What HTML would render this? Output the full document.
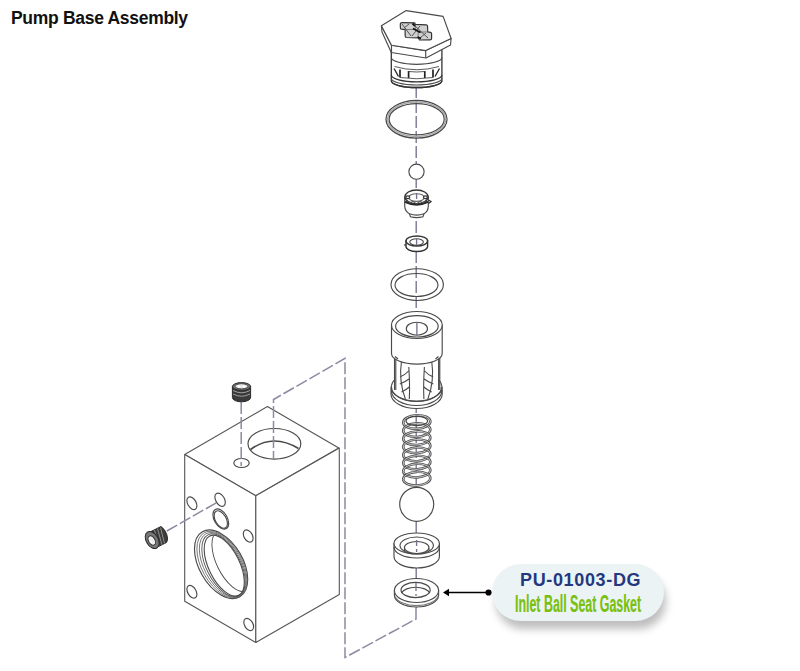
<!DOCTYPE html>
<html><head><meta charset="utf-8">
<style>
html,body{margin:0;padding:0;background:#fff;width:800px;height:671px;overflow:hidden;}
body{position:relative;font-family:"Liberation Sans",sans-serif;}
.title{position:absolute;left:11px;top:7.5px;font-size:17.5px;letter-spacing:-0.3px;font-weight:bold;color:#111;white-space:nowrap;}
svg{position:absolute;left:0;top:0;}
.pill{position:absolute;left:492px;top:564px;width:172px;height:57px;border-radius:29px;background:#ecf3f5;box-shadow:3px 9px 9px -1px rgba(0,0,0,0.26);}
.pn{position:absolute;left:28px;top:6px;font-size:18px;font-weight:bold;color:#24387f;white-space:nowrap;letter-spacing:0.65px;}
.nm{position:absolute;left:22.5px;top:26.8px;font-size:23.4px;font-weight:bold;color:#78c00e;white-space:nowrap;transform:scaleX(0.53);transform-origin:0 0;-webkit-text-stroke:0.2px #78c00e;}
</style></head>
<body>
<div class="title">Pump Base Assembly</div>
<svg width="800" height="671" viewBox="0 0 800 671">
<!-- ===== BLOCK ===== -->
<g fill="#fff" stroke="#555" stroke-width="1.1" stroke-linejoin="round">
  <path d="M267.4 406.6 L338.8 448 L255.8 495.8 L184.7 454.5 Z"/>
  <path d="M184.7 454.5 V601.2 L255.8 642.5 V495.8 Z"/>
  <path d="M255.8 642.5 L339.3 594.5 V448 L255.8 495.8 Z"/>
</g>
<g fill="none" stroke="#4a4a4a" stroke-width="1.15">
  <!-- top big hole -->
  <ellipse cx="274.4" cy="443.8" rx="26.4" ry="15.3"/>
  <path d="M250.5 449.5 Q273 433 298.5 448.5" stroke-width="1.6"/>
  <!-- small top hole -->
  <ellipse cx="241.5" cy="463" rx="7.7" ry="4.5"/>
  <!-- left face holes -->
  <ellipse cx="191.9" cy="503.2" rx="6.9" ry="4.2" transform="rotate(60 191.9 503.2)"/>
  <ellipse cx="220.1" cy="499.7" rx="7.2" ry="4.4" transform="rotate(60 220.1 499.7)"/>
  <ellipse cx="220.8" cy="519" rx="11" ry="6.5" transform="rotate(60 220.8 519)"/>
  <ellipse cx="220.8" cy="519.5" rx="9.6" ry="5.4" transform="rotate(60 220.8 519.5)"/>
  <ellipse cx="248.2" cy="536" rx="6.6" ry="4.2" transform="rotate(60 248.2 536)"/>
  <ellipse cx="191.9" cy="591.8" rx="6.9" ry="4.2" transform="rotate(60 191.9 591.8)"/>
  <ellipse cx="248.7" cy="624.5" rx="6.6" ry="4.2" transform="rotate(60 248.7 624.5)"/>
  <!-- big port -->
  <ellipse cx="221.1" cy="564.3" rx="37.5" ry="21.8" transform="rotate(60 221.1 564.3)"/>
  <ellipse cx="221.9" cy="564.6" rx="36.5" ry="20.2" transform="rotate(61 221.9 564.6)" stroke-width="0.8" stroke="#666"/>
  <ellipse cx="222.7" cy="564.9" rx="35.4" ry="18.6" transform="rotate(62 222.7 564.9)" stroke-width="0.8" stroke="#666"/>
  <ellipse cx="223.5" cy="565.3" rx="34.2" ry="17" transform="rotate(63 223.5 565.3)" stroke-width="0.9" stroke="#555"/>
  <ellipse cx="224.25" cy="565.6" rx="33" ry="15.5" transform="rotate(64 224.25 565.6)" stroke-width="1.1"/>
  <clipPath id="bore"><ellipse cx="224.25" cy="565.6" rx="33" ry="15.5" transform="rotate(64 224.25 565.6)"/></clipPath>
  <g clip-path="url(#bore)"><ellipse cx="232" cy="561" rx="33" ry="15.5" transform="rotate(64 232 561)" stroke-width="0.9"/></g>
</g>
</g>
<!-- ===== DASHED LINES ===== -->
<g fill="none" stroke="#8a8aa2" stroke-width="1.5" stroke-dasharray="12 3">
  <path d="M416.2 86 V608" stroke="#74748c" stroke-width="1.35"/>
  <path d="M416 608 V619 L345 657.5 V358.3 L273.5 399.5 V459"/>
  <path d="M241.2 402 V466"/>
  <path d="M166.8 531 L217 502.4"/>
</g>
<!-- ===== SCREWS ===== -->
<g stroke="#2a2a2a" stroke-width="1">
  <path d="M232.4 386.5 V397.5 A9.1 4.3 0 0 0 250.6 397.5 V386.5 Z" fill="#3a3a3a"/>
  <path d="M233 390.5 Q241.5 395 250 390.5 M233 394 Q241.5 398.5 250 394" stroke="#aaa" stroke-width="0.9" fill="none"/>
  <ellipse cx="241.5" cy="386.5" rx="9.1" ry="3.9" fill="#777"/>
  <ellipse cx="241.5" cy="386.3" rx="6.5" ry="2.6" fill="#e8e8e8" stroke="#444"/>
  <circle cx="239" cy="386.5" r="1.2" fill="#fff" stroke="none"/>
  <circle cx="244" cy="386.5" r="1.2" fill="#fff" stroke="none"/>
</g>
<g stroke="#2a2a2a" stroke-width="1">
  <path d="M150 532 L161 526.5 A5.5 10 -28 0 1 166.5 542.5 L155.5 548 Z" fill="#3c3c3c"/>
  <path d="M154.5 530 L159 546.5 M157.5 528.5 L162 545 M160.5 527.5 L164.5 543.5" stroke="#999" stroke-width="0.9" fill="none"/>
  <ellipse cx="152.2" cy="540" rx="6" ry="9.3" transform="rotate(-30 152.2 540)" fill="#777"/>
  <ellipse cx="151.8" cy="540.5" rx="3.2" ry="5" transform="rotate(-30 151.8 540.5)" fill="#eee" stroke="#333"/>
  <circle cx="151" cy="542" r="1.3" fill="#fff" stroke="none"/>
</g>
<!-- ===== PARTS ===== -->
<g fill="#fff" stroke="#4a4a4a" stroke-width="1.15" stroke-linejoin="round">
  <!-- plug -->
  <path d="M391.3 52 V80.7 A25.3 6.8 0 0 0 441.9 80.7 V49 Z" stroke="#333" stroke-width="1.3"/>
  <path d="M391.3 57.5 A25.3 6.8 0 0 0 441.9 57.5" fill="none"/>
  <path d="M394.5 66.5 Q417 73 439 66.5" fill="none" stroke-width="0.9"/>
  <path d="M400 69.5 V77.5 M408.6 71 V78 M424.8 71 V78 M433 69.5 V77.5" fill="none" stroke="#222" stroke-width="1.7"/>
  <path d="M408.6 71.5 Q416.7 72.5 424.8 71.5 M400 77.5 Q417 80 433 77.5" fill="none" stroke-width="0.9"/>
  <path d="M394 68.5 L398.5 76.5 M439.5 68.5 L435 76.5" fill="none" stroke="#222" stroke-width="1.3"/>
  <path d="M391.3 75 A25.3 6.8 0 0 0 441.9 75" fill="none" stroke="#333" stroke-width="1.3"/>
  <path d="M391.3 78.2 A25.3 6.8 0 0 0 441.9 78.2" fill="none"/>
  <path d="M391.3 80.7 A25.3 6.8 0 0 0 441.9 80.7" fill="none" stroke="#333" stroke-width="1.3"/>
  <path d="M381.4 25.8 L382 32 L391.3 52.5 L426 58 L450.5 45 L451.1 38.5 L425.7 50.6 L391.5 45.2 Z"/>
  <path d="M391.5 45.2 V52.5 M425.7 50.6 V58" fill="none"/>
  <path d="M406.2 10.6 L443.1 16.4 L451.1 38.5 L425.7 50.6 L391.5 45.2 L381.4 25.8 Z"/>
  <!-- cross icon on top -->
  <path d="M400.3 23.8 Q400.5 22.6 402 22.6 L414.7 22.8 L415.3 24.4 L426.3 24.8 Q427.6 25 427.6 26.5 L427.7 31.9 L430.6 32.4 Q431.6 32.6 431.6 34 L431.6 38.5 Q431.6 39.8 430 39.8 L419.5 40 L418.3 37.8 L406.5 37.5 Q405.2 37.4 405.2 36 L405.1 29.6 L401.5 29.2 Q400.4 29 400.4 28 Z" fill="#d0d0d0" stroke="#333" stroke-width="1.2"/>
  <path d="M405.1 29.6 L415.3 29.4 M415.3 24.4 V29.4 M418.3 37.8 L418 32.2 L427.7 31.9" fill="none" stroke="#666" stroke-width="0.8"/>
  <path d="M402 24 L411 36 M404 28 L409 24 M412 36 L420 26 M414 25 L428 38 M420 38 L426 33" fill="none" stroke="#555" stroke-width="1"/>
  <path d="M412.5 23.5 L415 26 M413 28.5 L420.5 32.5 M417.5 37 L421 38.5" fill="none" stroke="#111" stroke-width="1.8"/>
</g>
<g fill="none" stroke="#4a4a4a" stroke-width="1.15">
  <!-- o-ring 1 -->
  <ellipse cx="416.5" cy="119.3" rx="30.5" ry="18.8" stroke-width="1.3"/>
  <ellipse cx="416.7" cy="119.2" rx="27.6" ry="15.6" stroke-width="1.3"/>
  <ellipse cx="416.6" cy="119.2" rx="29" ry="17.2" stroke="#aaa" stroke-width="1.6"/>
</g>
<g fill="#fff" stroke="#4a4a4a" stroke-width="1.15">
  <!-- small ball -->
  <circle cx="416.5" cy="171.7" r="7.6"/>
  <!-- ball cage -->
  <path d="M404.7 197 V206 Q405 211.5 409.4 213.8 L410.5 216.8 Q416.7 218.5 423 216.8 L424 213.8 Q428.3 211.5 428.3 206 V197 Z"/>
  <ellipse cx="416.5" cy="196.8" rx="11.6" ry="6.8" stroke="#333" stroke-width="1.4"/>
  <ellipse cx="416.5" cy="197.5" rx="7.8" ry="3.8" fill="none" stroke="#666"/>
  <path d="M405 201.8 Q416.5 207.5 428 201.8" fill="none" stroke="#2a2a2a" stroke-width="2.2"/>
  <path d="M407 200.5 L410 203 L413 201 L416.5 204 L420 201 L423 203 L426 200.5" fill="none" stroke="#555" stroke-width="1"/>
  <ellipse cx="407.8" cy="197.3" rx="2" ry="1.4" fill="#fff" stroke="#333" stroke-width="1.2"/>
  <ellipse cx="425.4" cy="197.3" rx="2" ry="1.4" fill="#fff" stroke="#333" stroke-width="1.2"/>
  <path d="M409.4 213.8 Q416.7 216.3 424 213.8" fill="none"/>
  <path d="M428.5 200 L431 201.5 L428.5 203.5" fill="none" stroke="#333" stroke-width="1.3"/>
  <!-- seat ring small -->
  <path d="M406 241 V246.5 A10.8 5 0 0 0 427.6 246.5 V241 Z" stroke-width="1.4" stroke="#333"/>
  <ellipse cx="416.8" cy="241" rx="10.8" ry="5" stroke-width="1.4" stroke="#333"/>
  <ellipse cx="416.6" cy="242" rx="6.8" ry="3.3" fill="none"/>
  <path d="M406 244.5 L404.8 245 L406 246" fill="none" stroke-width="1.3"/>
</g>
<g fill="none" stroke="#4a4a4a" stroke-width="1.15">
  <!-- o-ring 2 -->
  <ellipse cx="417.2" cy="284.6" rx="26.2" ry="15.9"/>
  <ellipse cx="416.5" cy="285" rx="21.5" ry="11.5"/>
</g>
<g fill="#fff" stroke="#4a4a4a" stroke-width="1.15">
  <!-- cage -->
  <path d="M394 350 H440 V389 A23 13 0 0 1 394 389 Z" stroke="none"/>
  <path d="M394.5 355 V390 M395.8 356 V390 M438.6 356 V390 M439.8 355 V390" fill="none" stroke-width="1.1"/>
  <path d="M391 387 V394 A25.6 14.5 0 0 0 442.2 394 V387 A25.6 14 0 0 1 391 387 Z"/>
  <path d="M391.5 387 A25 14.5 0 0 0 441.5 387" fill="none"/>
  <path d="M391.5 391 A25.1 14.5 0 0 0 441.7 391" fill="none"/>
  <path d="M391.2 387 Q392 382 394.6 380 M442 387 Q441.2 382 438.6 380" fill="none"/>
  <path d="M401.5 361 Q398.5 381 405.5 399.5 M408.8 367 Q410 385 409.3 399 M400 377 Q405 375 408.6 371 M399.8 384 Q405 382 409 379 M401.5 392 Q406 390 409.3 387" fill="none" stroke-width="1.1"/>
  <path d="M431.7 361 Q434.7 381 427.7 399.5 M424.4 367 Q423.2 385 423.9 399 M433.2 377 Q428.2 375 424.6 371 M433.4 384 Q428.2 382 424.2 379 M431.7 392 Q427.2 390 423.9 387" fill="none" stroke-width="1.1"/>
  <path d="M391.5 325 V353.5 A25.35 10.6 0 0 0 442.2 353.5 V325 Z"/>
  <path d="M395 356.5 L398 359 M438.5 356.5 L435.5 359" fill="none"/>
  <ellipse cx="416.85" cy="325" rx="25.35" ry="13.5"/>
  <ellipse cx="416.9" cy="326.3" rx="21.3" ry="10.7" fill="none"/>
  <ellipse cx="416.9" cy="328.7" rx="10.6" ry="6.5" fill="none"/>
</g>
<g fill="none" stroke="#333" stroke-width="1">
  <!-- spring -->
  <ellipse cx="416.8" cy="422.0" rx="13.6" ry="6.8" transform="rotate(-3 416.8 422.0)" stroke="#505050" stroke-width="2.5"/>
  <ellipse cx="416.8" cy="422.0" rx="13.6" ry="6.8" transform="rotate(-3 416.8 422.0)" stroke="#e4e4e4" stroke-width="0.8"/>
  <ellipse cx="416.8" cy="430.1" rx="13.6" ry="6.8" transform="rotate(-3 416.8 430.1)" stroke="#505050" stroke-width="2.5"/>
  <ellipse cx="416.8" cy="430.1" rx="13.6" ry="6.8" transform="rotate(-3 416.8 430.1)" stroke="#e4e4e4" stroke-width="0.8"/>
  <ellipse cx="416.8" cy="438.2" rx="13.6" ry="6.8" transform="rotate(-3 416.8 438.2)" stroke="#505050" stroke-width="2.5"/>
  <ellipse cx="416.8" cy="438.2" rx="13.6" ry="6.8" transform="rotate(-3 416.8 438.2)" stroke="#e4e4e4" stroke-width="0.8"/>
  <ellipse cx="416.8" cy="446.3" rx="13.6" ry="6.8" transform="rotate(-3 416.8 446.3)" stroke="#505050" stroke-width="2.5"/>
  <ellipse cx="416.8" cy="446.3" rx="13.6" ry="6.8" transform="rotate(-3 416.8 446.3)" stroke="#e4e4e4" stroke-width="0.8"/>
  <ellipse cx="416.8" cy="454.4" rx="13.6" ry="6.8" transform="rotate(-3 416.8 454.4)" stroke="#505050" stroke-width="2.5"/>
  <ellipse cx="416.8" cy="454.4" rx="13.6" ry="6.8" transform="rotate(-3 416.8 454.4)" stroke="#e4e4e4" stroke-width="0.8"/>
  <ellipse cx="416.8" cy="462.5" rx="13.6" ry="6.8" transform="rotate(-3 416.8 462.5)" stroke="#505050" stroke-width="2.5"/>
  <ellipse cx="416.8" cy="462.5" rx="13.6" ry="6.8" transform="rotate(-3 416.8 462.5)" stroke="#e4e4e4" stroke-width="0.8"/>
  <ellipse cx="416.8" cy="470.6" rx="13.6" ry="6.8" transform="rotate(-3 416.8 470.6)" stroke="#505050" stroke-width="2.5"/>
  <ellipse cx="416.8" cy="470.6" rx="13.6" ry="6.8" transform="rotate(-3 416.8 470.6)" stroke="#e4e4e4" stroke-width="0.8"/>
  <ellipse cx="416.8" cy="478.7" rx="13.6" ry="6.8" transform="rotate(-3 416.8 478.7)" stroke="#505050" stroke-width="2.5"/>
  <ellipse cx="416.8" cy="478.7" rx="13.6" ry="6.8" transform="rotate(-3 416.8 478.7)" stroke="#e4e4e4" stroke-width="0.8"/>
  <ellipse cx="416.8" cy="421" rx="10.8" ry="4.6" stroke="#444" stroke-width="1.1"/>
</g>
<g fill="#fff" stroke="#4a4a4a" stroke-width="1.15">
  <!-- big ball -->
  <circle cx="416.7" cy="504.3" r="17"/>
  <!-- seat -->
  <path d="M394 543.5 V556.5 A22.7 11.5 0 0 0 439.4 556.5 V543.5 Z"/>
  <ellipse cx="416.7" cy="543.5" rx="22.7" ry="10.5"/>
  <path d="M394 547 A22.7 11 0 0 0 439.4 547" fill="none"/>
  <ellipse cx="416.7" cy="545.5" rx="16.7" ry="8.5" fill="none"/>
  <ellipse cx="416.7" cy="547.5" rx="12.3" ry="6" fill="none"/>
  <path d="M404.4 548.5 V551 M429 548.5 V551" fill="none"/>
  <!-- gasket -->
  <path d="M394.4 590.5 V595 A22.1 12 0 0 0 438.6 595 V590.5 Z"/>
  <ellipse cx="416.5" cy="590.5" rx="22.1" ry="12"/>
  <ellipse cx="415.6" cy="590" rx="14.6" ry="7.6"/>
  <path d="M401.5 593 A14.6 7.6 0 0 1 429.8 593" fill="none"/>
  <path d="M395 596.5 A22 11.5 0 0 0 438 596.5" fill="none" stroke="#777"/>
</g>
<g fill="none" stroke="#74748c" stroke-width="1.35">
  <path d="M416.9 322.5 V335"/>
  <path d="M416.6 540 V552" stroke-dasharray="6 3"/>
  <path d="M416 583 V596" stroke-dasharray="8 3"/>
  <path d="M416.6 193 V199"/>
  <path d="M416.6 239 V245"/>
</g>
<g fill="#000" stroke="#000">
  <line x1="447" y1="592.5" x2="488.5" y2="592.5" stroke-width="1.6"/>
  <path d="M443 592.5 L449 588.7 L449 596.3 Z" stroke="none"/>
  <circle cx="488.5" cy="592.5" r="3.1" stroke="none"/>
</g>
</svg>
<div class="pill"><div class="pn">PU-01003-DG</div><div class="nm">Inlet Ball Seat Gasket</div></div>
</body></html>
